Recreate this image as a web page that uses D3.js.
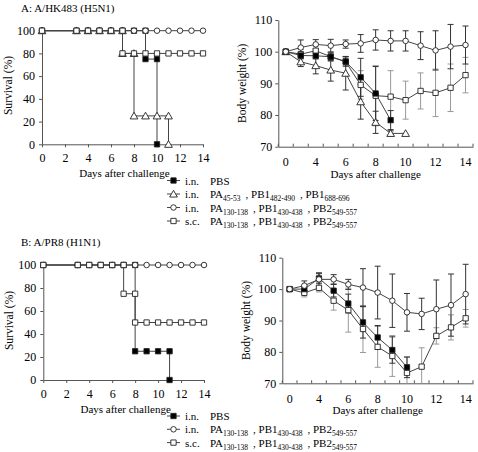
<!DOCTYPE html>
<html><head><meta charset="utf-8">
<script src="https://cdn.jsdelivr.net/npm/d3@7"></script>
<style>
body{margin:0;background:#fff}
svg{display:block}
text,tspan{font-family:"Liberation Serif","Times New Roman",serif;fill:#000}
</style>
</head><body>
<svg id="c" width="478" height="452"></svg>
<script>
// ---------- DATA ----------
const survTicksX = [0,2,4,6,8,10,12,14];
const survTicksY = [0,20,40,60,80,100];
// survival step series: [day, %]
const survA_PBS = [[0,100],[3,100],[4,100],[5,100],[6,100],[7,100],[8,100],[9,100],[9,75],[10,75],[10,0]];
const survA_tri = [[0,100],[3,100],[4,100],[5,100],[6,100],[7,100],[7,80],[8,80],[8,25],[9,25],[10,25],[11,25],[11,0]];
const survA_cir = [[0,100],[3,100],[4,100],[5,100],[6,100],[7,100],[8,100],[9,100],[10,100],[11,100],[12,100],[13,100],[14,100]];
const survA_sq  = [[0,100],[3,100],[4,100],[5,100],[6,100],[7,100],[7,80],[8,80],[9,80],[10,80],[11,80],[12,80],[13,80],[14,80]];
const survB_PBS = [[0,100],[3,100],[4,100],[5,100],[6,100],[7,100],[8,100],[8,25],[9,25],[10,25],[11,25],[11,0]];
const survB_cir = [[0,100],[3,100],[4,100],[5,100],[6,100],[7,100],[8,100],[9,100],[10,100],[11,100],[12,100],[13,100],[14,100]];
const survB_sq  = [[0,100],[3,100],[4,100],[5,100],[6,100],[7,100],[7,75],[8,75],[8,50],[9,50],[10,50],[11,50],[12,50],[13,50],[14,50]];

// body weight: category axis (days measured)
const bwDays = ["0","3","4","5","6","7","8","9","10","11","12","13","14"];
const bwDayLabels = ["0","4","6","8","10","12","14"];
const bwTicksY = [70,80,90,100,110];
const bwA_PBS    = [100, 98.8, 98.7, 98.4, 96.9, 91.9, 86.8, 78.4];
const bwA_PBS_sd = [0, 1, 1, 1.2, 1.5, 6, 8.5, 3];
const bwA_tri    = [100, 96.8, 95.6, 94.2, 93.2, 84.2, 77.7, 74.2, 74.2];
const bwA_tri_sd = [0, 1.5, 2.6, 3.5, 5.3, 5.5, 3.5, 0.8, 0];
const bwA_cir    = [100, 101.3, 102.3, 101.9, 102.4, 102.6, 103.7, 103.4, 103.4, 101.9, 100.4, 101.6, 102.1];
const bwA_cir_sd = [0, 2.4, 1.5, 2, 1.3, 2.8, 3.2, 3.2, 3.2, 4.4, 6.2, 7, 6];
const bwA_sq     = [100, 99.2, 100.3, 98.4, 96.8, 89.5, 86.1, 85.8, 84.7, 87.6, 87.0, 88.6, 92.6];
const bwA_sq_sd  = [0, 1.5, 1.5, 1.5, 1.2, 4.5, 9.5, 8.2, 6, 5.7, 7.5, 7.5, 5.6];
const bwB_PBS    = [100, 100, 103.4, 99.5, 95.4, 89.4, 84.6, 80.6, 75.1];
const bwB_PBS_sd = [0, 1.2, 1.5, 2, 3, 5, 3.8, 4.2, 3.3];
const bwB_cir    = [100, 101.1, 103.1, 103.1, 101.5, 100.5, 98.9, 96.3, 92.6, 92.1, 93.6, 94.9, 98.4];
const bwB_cir_sd = [0, 1.5, 2.1, 1.5, 1.6, 6, 8.4, 8.5, 6, 5, 9.3, 9.9, 9.5];
const bwB_sq     = [100, 98.8, 100.4, 96.3, 93.3, 87.3, 81.6, 78.7, 73.3, 75.3, 85.1, 87.8, 90.7];
const bwB_sq_sd  = [0, 1.3, 1.3, 3, 7, 7.5, 6.5, 6.5, 5, 6, 2.6, 4, 2.8];

const titleA = "A: A/HK483 (H5N1)";
const titleB = "B: A/PR8 (H1N1)";
const xTitle = "Days after challenge";
const survTitle = "Survival (%)";
const bwTitle = "Body weight (%)";
// legend entries: [marker, prefix, [[text, sub], ...]]
const legendA = [
  ["sqFill","i.n.", [["PBS",""]]],
  ["tri","i.n.", [["PA","45-53"],[" , PB1","482-490"],[" , PB1","688-696"]]],
  ["cir","i.n.", [["PA","130-138"],[" , PB1","430-438"],[" , PB2","549-557"]]],
  ["sq","s.c.", [["PA","130-138"],[" , PB1","430-438"],[" , PB2","549-557"]]]
];
const legendB = [
  ["sqFill","i.n.", [["PBS",""]]],
  ["cir","i.n.", [["PA","130-138"],[" , PB1","430-438"],[" , PB2","549-557"]]],
  ["sq","s.c.", [["PA","130-138"],[" , PB1","430-438"],[" , PB2","549-557"]]]
];

// ---------- DRAWING ----------
const svg = d3.select("#c");
const LINE = "#444", AXIS = "#555", FS = 11, TFS = 12;

function marker(g, type, x, y) {
  let sym, size;
  if (type === "sqFill" || type === "sq") { sym = d3.symbolSquare; size = 28; }
  else if (type === "cir") { sym = d3.symbolCircle; size = 24; }
  else { sym = d3.symbolTriangle; size = 26; }
  g.append("path")
    .attr("d", d3.symbol().type(sym).size(size)())
    .attr("transform", `translate(${x},${y + (type==="tri"?0.8:0)})`)
    .attr("fill", type === "sqFill" ? "#000" : "#fff")
    .attr("stroke", "#222").attr("stroke-width", 0.9);
}

function styleAxis(ax) {
  ax.selectAll("path.domain").attr("stroke", AXIS);
  ax.selectAll(".tick line").attr("stroke", AXIS);
  ax.selectAll("text").attr("font-family", '"Liberation Serif",serif').attr("font-size", TFS).attr("fill", "#000");
}

function survChart(o) {
  const g = svg.append("g");
  const x = d3.scaleLinear().domain([0,14]).range([o.x0, o.x1]);
  const y = d3.scaleLinear().domain([0,100]).range([o.y0, o.y1]);
  const ax = g.append("g").attr("transform", `translate(0,${o.y0})`)
    .call(d3.axisBottom(x).tickValues(survTicksX).tickSize(3).tickSizeOuter(0).tickPadding(6));
  styleAxis(ax);
  const ay = g.append("g").attr("transform", `translate(${o.x0},0)`)
    .call(d3.axisLeft(y).tickValues(survTicksY).tickSize(3).tickSizeOuter(0).tickPadding(4));
  styleAxis(ay);
  const line = d3.line().x(d => x(d[0])).y(d => y(d[1]));
  o.series.forEach(s => {
    g.append("path").attr("d", line(s.data)).attr("fill","none").attr("stroke", LINE).attr("stroke-width", 1);
  });
  o.series.forEach(s => s.data.forEach(d => marker(g, s.type, x(d[0]), y(d[1]))));
  g.append("text").attr("x", (o.x0+o.x1)/2 + 2).attr("y", o.y0 + 33).attr("text-anchor","middle")
    .attr("font-size", FS).text(xTitle);
  g.append("text").attr("transform", `translate(${o.x0-30},${(o.y0+o.y1)/2 - 2}) rotate(-90)`)
    .attr("text-anchor","middle").attr("font-size", 11.5).text(survTitle);
}

function bwChart(o) {
  const g = svg.append("g");
  const x = d3.scaleBand().domain(bwDays).range([o.x0, o.x1]).padding(0);
  const cx = d => x(d) + x.bandwidth()/2;
  const y = d3.scaleLinear().domain([70,110]).range([o.y0, o.y1]);
  // category boundary ticks
  const bounds = bwDays.map(d => x(d)).concat([o.x1]);
  g.selectAll(null).data(bounds).enter().append("line")
    .attr("x1", d => d).attr("x2", d => d).attr("y1", o.y0).attr("y2", o.y0 - 3)
    .attr("stroke", AXIS);
  const ax = g.append("g").attr("transform", `translate(0,${o.y0})`)
    .call(d3.axisBottom(x).tickValues(bwDayLabels).tickSize(0).tickSizeOuter(0).tickPadding(11));
  styleAxis(ax);
  const ay = g.append("g").attr("transform", `translate(${o.x0},0)`)
    .call(d3.axisLeft(y).tickValues(bwTicksY).tickSize(3).tickSizeOuter(0).tickPadding(3));
  styleAxis(ay);
  // error bars
  o.series.forEach(s => {
    s.vals.forEach((v, i) => {
      const sd = s.sd[i]; if (!sd) return;
      const xx = cx(bwDays[i]);
      const t = y(v + sd), b = Math.min(y(v - sd), o.y0);
      g.append("line").attr("x1", xx).attr("x2", xx).attr("y1", t).attr("y2", b)
        .attr("stroke", s.ec).attr("stroke-width", 1);
      g.append("line").attr("x1", xx-3).attr("x2", xx+3).attr("y1", t).attr("y2", t)
        .attr("stroke", s.ec).attr("stroke-width", 1);
      if (y(v - sd) <= o.y0)
        g.append("line").attr("x1", xx-3).attr("x2", xx+3).attr("y1", y(v-sd)).attr("y2", y(v-sd))
          .attr("stroke", s.ec).attr("stroke-width", 1);
    });
  });
  const line = d3.line().x((d,i) => cx(bwDays[i])).y(d => y(d));
  o.series.forEach(s => {
    g.append("path").attr("d", line(s.vals)).attr("fill","none").attr("stroke", LINE).attr("stroke-width", 1);
  });
  o.series.forEach(s => s.vals.forEach((v,i) => marker(g, s.type, cx(bwDays[i]), y(v))));
  g.append("text").attr("x", (o.x0+o.x1)/2).attr("y", o.y0 + o.tdy).attr("text-anchor","middle")
    .attr("font-size", FS).text(xTitle);
  g.append("text").attr("transform", `translate(${o.x0-32},${(o.y0+o.y1)/2}) rotate(-90)`)
    .attr("text-anchor","middle").attr("font-size", 11.5).text(bwTitle);
}

function legend(items, y0, dy) {
  const g = svg.append("g");
  items.forEach((it, i) => {
    const yy = y0 + i*dy;
    g.append("line").attr("x1", 167).attr("x2", 180).attr("y1", yy).attr("y2", yy).attr("stroke", LINE);
    marker(g, it[0], 173.5, yy);
    g.append("text").attr("x", 185).attr("y", yy + 4).attr("font-size", FS).text(it[1]);
    const t = g.append("text").attr("x", 210).attr("y", yy + 4).attr("font-size", FS);
    it[2].forEach(p => {
      t.append("tspan").attr("fill", "#000").text(p[0]);
      if (p[1]) {
        t.append("tspan").attr("dy", 3).attr("font-size", 7.5).attr("fill", "#000").text(p[1]);
        t.append("tspan").attr("dy", -3).attr("fill", "#000").text("\u2009");
      }
    });
  });
}

svg.append("text").attr("x", 21).attr("y", 12).attr("font-size", FS).text(titleA);
svg.append("text").attr("x", 21).attr("y", 246).attr("font-size", FS).text(titleB);

survChart({x0:42, x1:203, y0:144.3, y1:30.7, series:[
  {type:"sqFill", data:survA_PBS},
  {type:"tri", data:survA_tri},
  {type:"cir", data:survA_cir},
  {type:"sq", data:survA_sq}
]});
survChart({x0:43.3, x1:204, y0:380, y1:265, series:[
  {type:"sqFill", data:survB_PBS},
  {type:"cir", data:survB_cir},
  {type:"sq", data:survB_sq}
]});

bwChart({x0:278.3, x1:473, y0:146.7, y1:20, tdy:31, series:[
  {type:"sq", vals:bwA_sq, sd:bwA_sq_sd, ec:"#999"},
  {type:"tri", vals:bwA_tri, sd:bwA_tri_sd, ec:"#333"},
  {type:"sqFill", vals:bwA_PBS, sd:bwA_PBS_sd, ec:"#333"},
  {type:"cir", vals:bwA_cir, sd:bwA_cir_sd, ec:"#333"}
]});
bwChart({x0:282.3, x1:473, y0:383.3, y1:257.7, tdy:31, series:[
  {type:"sq", vals:bwB_sq, sd:bwB_sq_sd, ec:"#999"},
  {type:"sqFill", vals:bwB_PBS, sd:bwB_PBS_sd, ec:"#333"},
  {type:"cir", vals:bwB_cir, sd:bwB_cir_sd, ec:"#333"}
]});

legend(legendA, 180.5, 13.5);
legend(legendB, 416, 13.3);
</script>
</body></html>
